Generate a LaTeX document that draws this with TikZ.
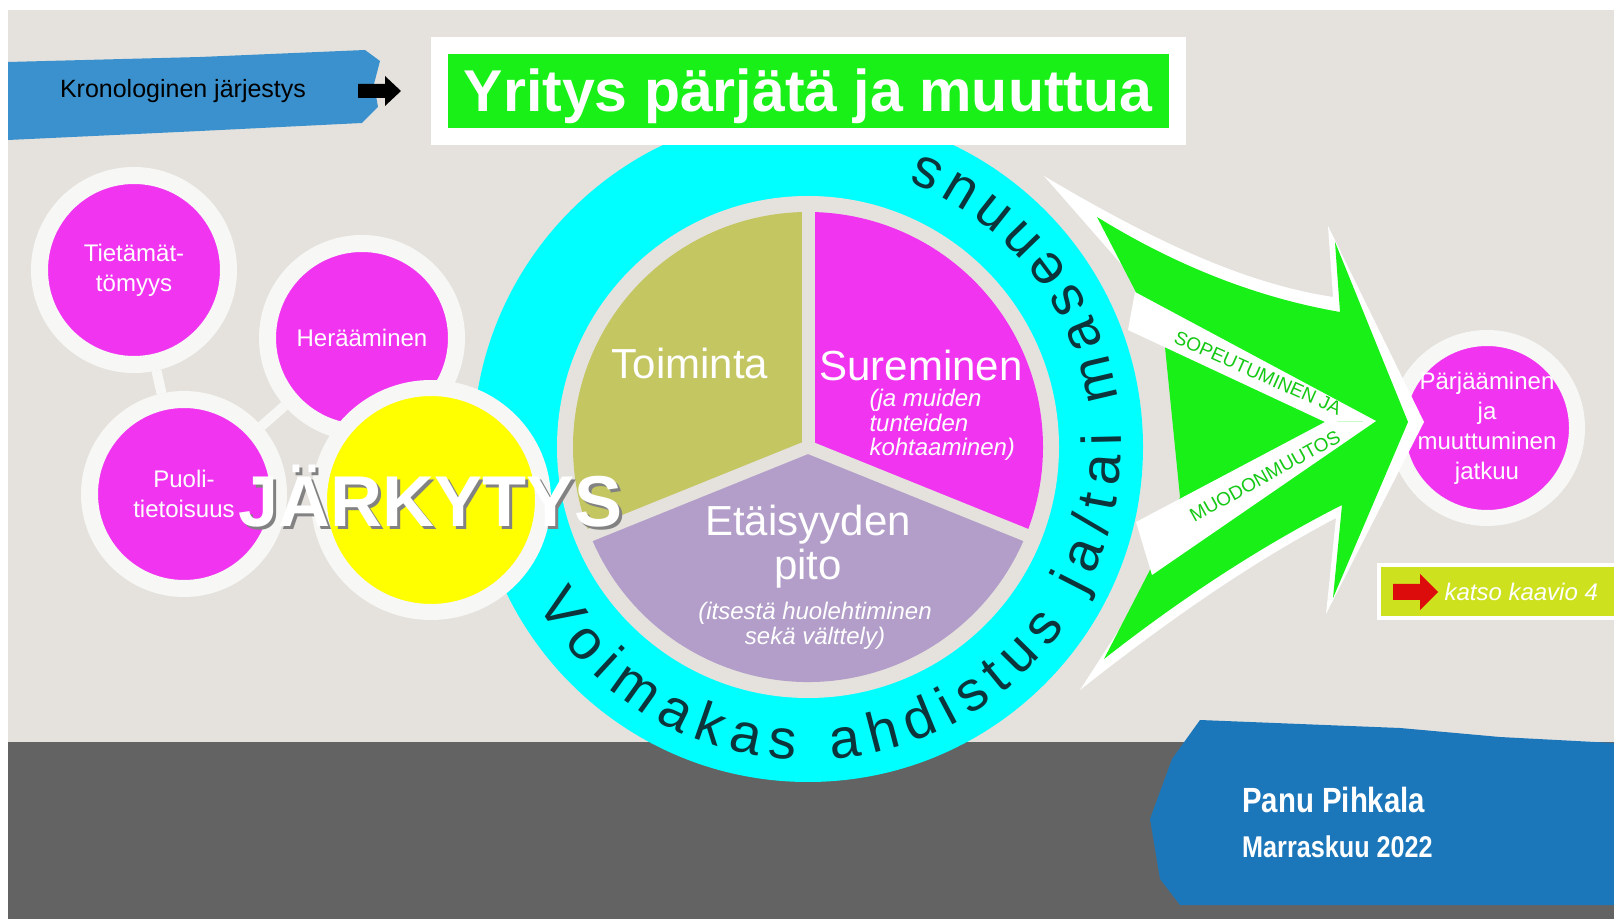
\documentclass[tikz,border=0pt]{standalone}
\usepackage{fontspec}
\setmainfont{Liberation Sans}
\newfontfamily\authorfont[FakeStretch=0.84]{Liberation Sans}
\usetikzlibrary{decorations.text}

\definecolor{wall}{RGB}{229,226,222}
\definecolor{ringcyan}{RGB}{0,255,255}
\definecolor{ringtext}{RGB}{12,52,58}
\definecolor{olivesec}{RGB}{196,198,98}
\definecolor{magsec}{RGB}{240,52,240}
\definecolor{purplesec}{RGB}{178,158,200}
\definecolor{shockyellow}{RGB}{255,255,0}
\definecolor{brightgreen}{RGB}{24,240,24}
\definecolor{stripgreen}{RGB}{20,200,20}
\definecolor{limebox}{RGB}{205,225,30}
\definecolor{bandgray}{RGB}{99,99,99}
\definecolor{paintblue}{RGB}{28,118,186}
\definecolor{lightpaint}{RGB}{58,145,205}
\definecolor{ringwhite}{RGB}{247,247,245}
\definecolor{shade}{RGB}{130,130,130}
\definecolor{arrowred}{RGB}{220,12,12}

\newcommand{\fsz}[2]{\fontsize{#1}{#2}\selectfont}

\begin{document}
\begin{tikzpicture}[x=1pt, y=1pt,
  bubble/.style={circle, fill=magsec, draw=ringwhite, line width=17pt,
    minimum size=189pt, inner sep=0pt, text=white, align=center, font=\fsz{24}{30}},
  link/.style={draw=ringwhite, line width=10pt},
  sectorlabel/.style={text=white, align=center, font=\fsz{42}{44}},
  sectornote/.style={text=white, font=\fsz{24}{24.5}\itshape},
  striplabel/.style={text=stripgreen, inner sep=0pt, font=\fsz{19}{19}},
  jarkshade/.style={text=shade, font=\fsz{72}{72}\bfseries},
  jarkword/.style={text=white, font=\fsz{72}{72}\bfseries}]

\useasboundingbox (0,0) rectangle (1614,919);
\fill[white] (0,0) rectangle (1614,919);
\fill[wall] (8,0) rectangle (1614,909);
\fill[bandgray] (8,0) rectangle (1614,177);

% paint strokes
\fill[lightpaint] (8,857) -- (200,862) -- (365,869) -- (380,858) -- (374,835)
  -- (378,812) -- (362,796) -- (200,788) -- (8,779) -- cycle;
\fill[paintblue] (1200,199) -- (1300,195) -- (1400,191) -- (1500,182) -- (1614,176)
  -- (1614,14) -- (1180,14) -- (1160,40) -- (1150,100) -- (1172,160) -- cycle;

\node[font=\fsz{25}{25}] (krono) at (183,828) {Kronologinen järjestys};
\fill[black] (358,835) -- (385,835) -- (385,843) -- (401,828) -- (385,813)
  -- (385,821) -- (358,821) -- cycle;

% stages before the shock
\node[bubble] (tietamat) at (134,649) {Tietämät-\\tömyys};
\node[bubble] (puoli) at (184,425) {Puoli-\\tietoisuus};
\node[bubble] (heraaminen) at (362,581) {Herääminen};
\draw[link] (tietamat) -- (puoli);
\draw[link] (puoli) -- (heraaminen);

% anxiety ring and the three ways
\coordinate (pie) at (808,472);
\fill[ringcyan] (pie) circle[radius=335];
\fill[wall] (pie) circle[radius=251];
\fill[olivesec] (pie) -- ++(90:235) arc[start angle=90, end angle=202, radius=235] -- cycle;
\fill[purplesec] (pie) -- ++(202:235) arc[start angle=202, end angle=338, radius=235] -- cycle;
\fill[magsec] (pie) -- ++(338:235) arc[start angle=338, end angle=450, radius=235] -- cycle;
\foreach \a in {90,202,338}
  \draw[wall, line width=13pt, line cap=round] (pie) -- ++(\a:240);
\path[decorate, decoration={text along path, text align=fit to path,
    text={|\fsz{56}{60}\color{ringtext}|Voimakas ahdistus ja/tai masennus}}]
  (pie) ++(210:313) arc[start angle=210, end angle=429, radius=313];

\node[sectorlabel] (toiminta) at (690,556) {Toiminta};
\node[sectorlabel] (sureminen) at (921,554) {Sureminen};
\node[sectornote, anchor=west, align=left] (surenote) at (866,494) {(ja muiden\\tunteiden\\kohtaaminen)};
\node[sectorlabel] (etaisyys) at (808,372) {Etäisyyden\\pito};
\node[sectornote, align=center] (etanote) at (815,293) {(itsestä huolehtiminen\\sekä välttely)};

% the shock
\node[bubble, fill=shockyellow, line width=16pt, minimum size=224pt] (shock) at (431,419) {};
\node[jarkshade] (jdrop) at (434,420) {JÄRKYTYS};
\node[jarkword] (jarkytys) at (431,423) {JÄRKYTYS};

\node[fill=brightgreen, draw=white, line width=17pt, minimum width=738pt, minimum height=91pt,
  text=white, text height=42pt, text depth=0pt, font=\fsz{59}{59}\bfseries] (title) at (808,828)
  {Yritys pärjätä ja muuttua};

\node[bubble, line width=16pt, minimum size=180pt, font=\fsz{24}{30}] (parjaaminen) at (1487,491)
  {Pärjääminen\\ja\\muuttuminen\\jatkuu};

% converging arrow
\fill[white] (1044,743) .. controls (1170,668) and (1255,634) .. (1333,622) -- (1328,693)
  -- (1424,497) -- (1326,305) -- (1336,401) .. controls (1260,361) and (1180,308) .. (1080,229)
  -- (1160,353) -- (1190,422) -- (1175,572) -- (1150,622) -- cycle;
\fill[brightgreen] (1097,702) .. controls (1178,652) and (1259,621) .. (1340,607) -- (1335,677)
  -- (1408,497) -- (1333,321) -- (1342,414) .. controls (1263,374) and (1183,322) .. (1104,260)
  -- (1152,353) -- (1180,422) -- (1165,572) -- (1140,619) -- cycle;
\fill[white] (1135,627) -- (1376,498) -- (1325,497) -- (1128,589) -- cycle;
\fill[white] (1376,498) -- (1152,344) -- (1136,397) -- (1325,497) -- cycle;
\node[striplabel, rotate=-24] (sopeutuminen) at (1258,546) {SOPEUTUMINEN JA};
\node[striplabel, rotate=29] (muodonmuutos) at (1265,443) {MUODONMUUTOS};

\node[fill=limebox, draw=white, line width=4pt, minimum width=250pt, minimum height=53pt] (katsobox) at (1504,327) {};
\fill[arrowred] (1393,335) -- (1420,335) -- (1420,345) -- (1438,327) -- (1420,309)
  -- (1420,319) -- (1393,319) -- cycle;
\node[anchor=west, text=white, font=\fsz{24}{24}\itshape] (katso) at (1441,327) {katso kaavio 4};

\node[anchor=base west, inner sep=0pt, text=white, font=\authorfont\bfseries\fsz{35}{35}] (author) at (1242,107) {Panu Pihkala};
\node[anchor=base west, inner sep=0pt, text=white, font=\authorfont\bfseries\fsz{30}{30}] (date) at (1242,62) {Marraskuu 2022};
\end{tikzpicture}
\end{document}
